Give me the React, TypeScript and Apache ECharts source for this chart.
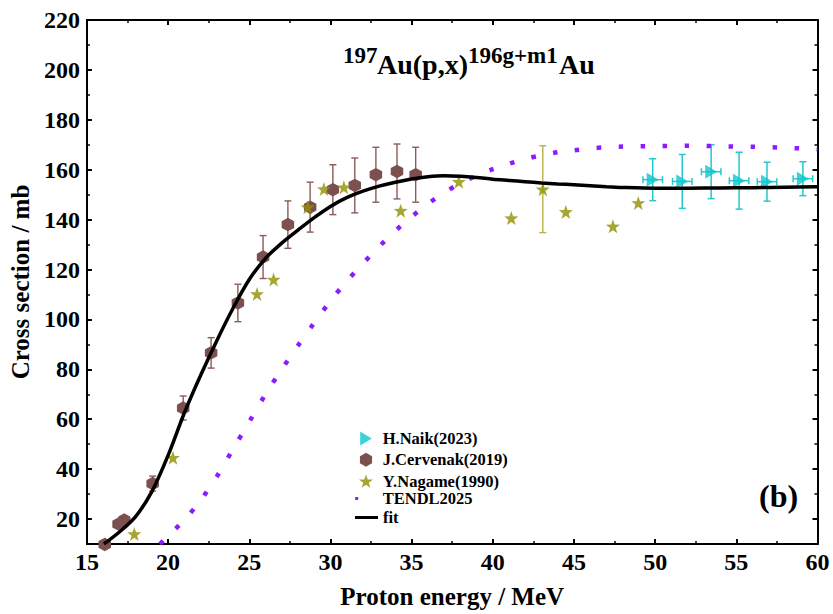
import React, { useEffect, useRef } from 'react';
import * as echarts from 'echarts';

// ---------------- data ----------------
const naikE = [49.85, 51.67, 53.45, 55.17, 56.89, 59.1];
const naikXS = [156.0, 155.3, 159.2, 155.6, 155.2, 156.4];
const naikErrY = [8.4, 10.8, 10.8, 11.4, 7.8, 6.8];
const naikErrX = [0.6, 0.6, 0.6, 0.6, 0.6, 0.6];

const cervE = [16.1, 16.95, 17.3, 19.05, 20.93, 22.65, 24.3, 25.85, 27.38, 28.75, 30.15, 31.5, 32.8, 34.1, 35.25];
const cervXS = [9.8, 18, 19.6, 34.2, 64.5, 86.6, 106.6, 125, 138, 145, 152, 153.7, 158, 159.3, 158];
const cervErr = [0, 0, 0, 3, 4.8, 6.1, 7.5, 8.6, 9.5, 10, 10, 11, 11, 11, 11];

const nagE = [17.92, 20.3, 25.48, 26.5, 28.6, 29.6, 30.83, 34.33, 37.91, 41.14, 43.08, 44.5, 47.4, 48.96];
const nagXS = [14, 44.6, 110.2, 116, 145, 152.3, 153, 143.6, 155.2, 140.6, 152.2, 143.1, 137.3, 146.7];
const nagErr = [0, 0, 0, 0, 0, 0, 0, 0, 0, 0, 17.4, 0, 0, 0];

const tendlE = [19.5, 20, 21, 22, 23, 24, 25, 26, 27, 28, 29, 30, 31, 32, 33, 34, 35, 36, 37, 38, 39, 40, 41, 42, 43, 44, 45, 46, 47, 48, 50, 52, 54, 56, 58, 60];
const tendlXS = [10, 13.3, 19.6, 27.5, 37, 48, 59, 70, 80, 89.5, 98.6, 107.4, 115.3, 122.4, 129.2, 135.5, 141.2, 146.3, 150.8, 154.5, 157.6, 160.2, 162.4, 164.3, 165.8, 167, 167.8, 168.5, 169, 169.3, 169.5, 169.6, 169.4, 169.2, 168.8, 168.2];

const fitE = [16.05, 17, 18, 19, 20, 21, 22, 23, 24, 25, 26, 27, 28, 29, 30, 31, 32, 33, 34, 35, 36, 37, 38, 39, 40, 41, 42, 43, 44, 45, 46, 47, 48, 50, 52, 54, 56, 58, 60];
const fitXS = [10, 14.8, 21, 31, 45.5, 62.5, 77.5, 91.5, 104.5, 116, 124.5, 130.6, 135.8, 140.8, 145.3, 148.8, 151.4, 153.4, 155, 156.3, 157.2, 157.6, 157.4, 156.9, 156.2, 155.7, 155.2, 154.7, 154.3, 154, 153.6, 153.2, 152.9, 152.6, 152.6, 152.7, 152.8, 153, 153.2];

const xTicks = [15, 20, 25, 30, 35, 40, 45, 50, 55, 60];
const yMajor = [20, 40, 60, 80, 100, 120, 140, 160, 180, 200, 220];
const yMinor = [30, 50, 70, 90, 110, 130, 150, 170, 190, 210];

const legendNames = ['H.Naik(2023)', 'J.Cervenak(2019)', 'Y.Nagame(1990)', 'TENDL2025', 'fit'];

// ---------------- styling ----------------
const FONT = 'Liberation Serif, Times New Roman, serif';
const C_NAIK = '#0cc6cf';
const C_CERV = '#7d5050';
const C_NAG = '#909000';
const C_TENDL = '#8a1cff';

const HEX = 'path://M5,0L9.33,2.5L9.33,7.5L5,10L0.67,7.5L0.67,2.5Z';
const TRI = 'path://M0,0L10,6L0,12Z';
function starPath(): string {
  const pts: string[] = [];
  for (let k = 0; k < 10; k++) {
    const r = k % 2 === 0 ? 10 : 4.0;
    const a = (-90 + k * 36) * Math.PI / 180;
    pts.push((10 + r * Math.cos(a)).toFixed(2) + ',' + (10 + r * Math.sin(a)).toFixed(2));
  }
  return 'path://M' + pts.join('L') + 'Z';
}
const STAR = starPath();

function errRender(color: string, cap: number, lw: number) {
  return (params: any, api: any) => {
    const x = api.value(0), y = api.value(1), ey = api.value(2), ex = api.value(3);
    const st = { stroke: color, lineWidth: lw };
    const ch: any[] = [];
    if (ey > 0) {
      const t = api.coord([x, y + ey]);
      const b = api.coord([x, y - ey]);
      ch.push({ type: 'line', shape: { x1: t[0], y1: t[1], x2: b[0], y2: b[1] }, style: st });
      ch.push({ type: 'line', shape: { x1: t[0] - cap, y1: t[1], x2: t[0] + cap, y2: t[1] }, style: st });
      ch.push({ type: 'line', shape: { x1: b[0] - cap, y1: b[1], x2: b[0] + cap, y2: b[1] }, style: st });
    }
    if (ex > 0) {
      const l = api.coord([x - ex, y]);
      const r = api.coord([x + ex, y]);
      ch.push({ type: 'line', shape: { x1: l[0], y1: l[1], x2: r[0], y2: r[1] }, style: st });
      ch.push({ type: 'line', shape: { x1: l[0], y1: l[1] - cap, x2: l[0], y2: l[1] + cap }, style: st });
      ch.push({ type: 'line', shape: { x1: r[0], y1: r[1] - cap, x2: r[0], y2: r[1] + cap }, style: st });
    }
    return { type: 'group', children: ch };
  };
}

const axisLine = { show: true, onZero: false, lineStyle: { color: '#000', width: 2 } };
const tickLabel = { fontFamily: FONT, fontWeight: 'bold', fontSize: 24, color: '#000' };
const nameStyle = { fontFamily: FONT, fontWeight: 'bold', fontSize: 25, color: '#000' };

function txt(text: string, left: number, top: number, size: number) {
  return {
    type: 'text', left, top, z: 10,
    style: { text, fontFamily: FONT, fontWeight: 'bold', fontSize: size, fill: '#000' },
  };
}

export default function App() {
  const ref = useRef<HTMLDivElement>(null);
  useEffect(() => {
    if (!ref.current) return;
    const chart = echarts.init(ref.current, null, { renderer: 'svg' });

    const xAxisBase = {
      type: 'value', min: 15, max: 60, interval: 5,
      axisLine,
      axisTick: { show: true, inside: true, length: 5, lineStyle: { color: '#000', width: 2 } },
      minorTick: { show: true, splitNumber: 2, length: 3, lineStyle: { color: '#000', width: 1.5 } },
      splitLine: { show: false },
    };
    const yMajorBase = (pos: string, label: boolean) => ({
      type: 'value', min: 10, max: 220, position: pos,
      axisLine,
      axisTick: { show: true, inside: true, length: 5, customValues: yMajor, lineStyle: { color: '#000', width: 2 } },
      axisLabel: label ? { ...tickLabel, margin: 7, customValues: yMajor } : { show: false },
      splitLine: { show: false },
    });
    const yMinorBase = (pos: string) => ({
      type: 'value', min: 10, max: 220, position: pos,
      axisLine: { show: false },
      axisTick: { show: true, inside: true, length: 3, customValues: yMinor, lineStyle: { color: '#000', width: 1.5 } },
      axisLabel: { show: false },
      splitLine: { show: false },
    });

    const legendText = { fontFamily: FONT, fontWeight: 'bold', fontSize: 16.5, color: '#000', lineHeight: 17 };

    const option: any = {
      animation: false,
      backgroundColor: '#fff',
      grid: { left: 85.5, right: 15.5, top: 20, bottom: 69, containLabel: false },
      xAxis: [
        {
          ...xAxisBase, position: 'bottom',
          axisLabel: { ...tickLabel, margin: 6, customValues: xTicks },
          name: 'Proton energy / MeV', nameLocation: 'middle', nameGap: 40, nameTextStyle: nameStyle,
        },
        { ...xAxisBase, position: 'top', axisLabel: { show: false } },
      ],
      yAxis: [
        { ...yMajorBase('left', true), name: 'Cross section / mb', nameLocation: 'middle', nameGap: 51, nameTextStyle: nameStyle },
        yMajorBase('right', false),
        yMinorBase('left'),
        yMinorBase('right'),
      ],
      legend: [
        {
          data: legendNames.slice(0, 3), orient: 'vertical', left: 359, top: 430, padding: 0,
          itemWidth: 14, itemHeight: 14, itemGap: 4.3, textStyle: { ...legendText, padding: [0, 0, 0, 4.7] },
          selectedMode: false,
        },
        {
          data: [{ name: legendNames[3], icon: 'rect' }], left: 355.2, top: 490, padding: 0,
          itemWidth: 3, itemHeight: 3, textStyle: { ...legendText, padding: [0, 0, 0, 19.5] },
          selectedMode: false,
        },
        {
          data: [{ name: legendNames[4], icon: 'rect' }], left: 355, top: 509, padding: 0,
          itemWidth: 23, itemHeight: 3, textStyle: { ...legendText, padding: [0, 0, 0, 0] },
          selectedMode: false,
        },
      ],
      series: [
        {
          name: 'cervErr', type: 'custom', z: 1,
          renderItem: errRender('#8a5a5a', 3.5, 1.4),
          data: cervE.map((e, i) => [e, cervXS[i], cervErr[i], 0]),
        },
        {
          name: 'nagErr', type: 'custom', z: 1,
          renderItem: errRender('#b4b44a', 3.5, 1.4),
          data: nagE.map((e, i) => [e, nagXS[i], nagErr[i], 0]).filter((d) => d[2] > 0),
        },
        {
          name: 'naikErr', type: 'custom', z: 1,
          renderItem: errRender('#25c8cc', 3.5, 1.5),
          data: naikE.map((e, i) => [e, naikXS[i], naikErrY[i], naikErrX[i]]),
        },
        {
          name: legendNames[3], type: 'line', z: 2, smooth: 0.3, showSymbol: false, symbol: 'none',
          data: tendlE.map((e, i) => [e, tendlXS[i]]),
          itemStyle: { color: C_TENDL },
          lineStyle: { color: C_TENDL, width: 4.5, type: [4.5, 17.5], cap: 'butt' },
        },
        {
          name: legendNames[1], type: 'scatter', z: 3, clip: false,
          symbol: HEX, symbolSize: [12.5, 13.5],
          itemStyle: { color: C_CERV, opacity: 1 },
          data: cervE.map((e, i) => [e, cervXS[i]]),
        },
        {
          name: legendNames[2], type: 'scatter', z: 3,
          symbol: STAR, symbolSize: 14,
          itemStyle: { color: C_NAG },
          data: nagE.map((e, i) => [e, nagXS[i]]),
        },
        {
          name: legendNames[0], type: 'scatter', z: 3,
          symbol: TRI, symbolSize: [12, 14],
          itemStyle: { color: C_NAIK },
          data: naikE.map((e, i) => [e, naikXS[i]]),
        },
        {
          name: legendNames[4], type: 'line', z: 4, smooth: 0.3, showSymbol: false, symbol: 'none',
          data: fitE.map((e, i) => [e, fitXS[i]]),
          itemStyle: { color: '#000' },
          lineStyle: { color: '#000', width: 3.5 },
        },
      ],
      graphic: [
        txt('197', 343, 44, 23),
        txt('Au(p,x)', 377, 50, 28),
        txt('196g+m1', 468, 44, 23),
        txt('Au', 559, 50, 28),
        txt('(b)', 759, 480, 32),
      ],
    };
    chart.setOption(option);
    return () => chart.dispose();
  }, []);
  return <div ref={ref} style={{ position: 'absolute', left: 0, top: 0, width: 833, height: 614 }} />;
}
